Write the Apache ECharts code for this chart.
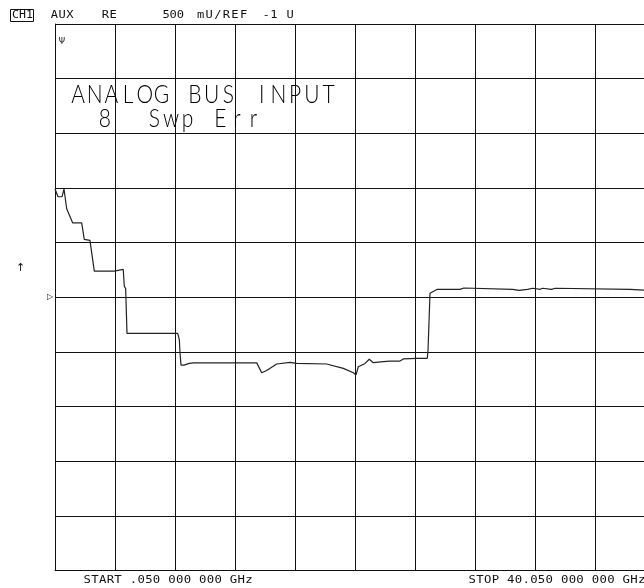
<!DOCTYPE html>
<html>
<head>
<meta charset="utf-8">
<script src="https://cdn.jsdelivr.net/npm/echarts@6.0.0/dist/echarts.min.js"></script>
<style>
  html, body { margin: 0; padding: 0; background: #fff; }
  #chart { width: 644px; height: 588px; }
</style>
</head>
<body>
<div id="chart"></div>
<script>
// Channel 1, AUX input, real part: 500 mU/div, reference -1 U at the centre line
const startGHz = 0.05;
const stopGHz = 40.05;
const refLevel = -1;        // U
const scalePerDiv = 0.5;    // U per division
const divisions = 10;

const startLabel = 'START .050 000 000 GHz';
const stopLabel = 'STOP 40.050 000 000 GHz';
const headerItems = ['AUX', 'RE', '500', 'mU/REF', '-1', 'U'];
const titleLines = ['ANALOG BUS INPUT', '8  Swp Err'];

// Swept trace (frequency in GHz, value in U)
const freqGHz = [
  0.05, 0.25, 0.52, 0.65, 0.83, 0.92, 1.23, 1.83, 2.00, 2.38,
  2.67, 4.00, 4.07, 4.60, 4.67, 4.76, 4.85, 8.23, 8.34, 8.38,
  8.45, 8.65, 9.00, 9.30, 13.50, 13.83, 14.16, 14.83, 15.72, 16.16,
  18.16, 19.27, 19.94, 20.12, 20.27, 20.72, 21.00, 21.27, 21.94, 22.38,
  23.05, 23.27, 24.16, 24.87, 24.92, 25.05, 25.16, 25.54, 27.05, 27.15,
  27.30, 27.40, 30.55, 30.62, 31.00, 31.08, 31.55, 31.62, 31.90, 31.97,
  32.40, 32.47, 32.55, 32.62, 33.15, 33.22, 33.40, 33.47, 38.38, 38.50,
  40.05
];
const auxU = [
  -0.01, -0.08, -0.08, -0.01, -0.19, -0.19, -0.32, -0.32, -0.47, -0.48,
  -0.76, -0.76, -0.745, -0.745, -0.90, -0.92, -1.33, -1.33, -1.39, -1.50,
  -1.62, -1.62, -1.605, -1.60, -1.60, -1.69, -1.67, -1.61, -1.595, -1.605,
  -1.61, -1.65, -1.69, -1.71, -1.635, -1.605, -1.567, -1.598, -1.589, -1.583,
  -1.583, -1.564, -1.558, -1.558, -1.48, -0.963, -0.949, -0.927, -0.927, -0.915,
  -0.915, -0.927, -0.927, -0.937, -0.937, -0.927, -0.927, -0.917, -0.917, -0.927,
  -0.927, -0.917, -0.917, -0.927, -0.927, -0.917, -0.917, -0.927, -0.927, -0.94,
  -0.94
];

const INK = '#111';
const MONO = '"DejaVu Sans Mono", monospace';

const chart = echarts.init(document.getElementById('chart'), null, { renderer: 'canvas' });

const yMin = refLevel - scalePerDiv * divisions / 2;
const yMax = refLevel + scalePerDiv * divisions / 2;
const gridLine = { show: true, lineStyle: { color: INK, width: 1, type: 'solid' } };

chart.setOption({
  animation: false,
  // the graticule runs 600 px wide, past the right edge of the window
  grid: { left: 55, top: 24, width: 600, height: 546.6, containLabel: false, outerBoundsMode: 'none' },
  xAxis: [
    { type: 'value', min: startGHz, max: stopGHz, show: false },
    {
      type: 'value', min: 0, max: divisions, interval: 1, position: 'bottom',
      axisLine: { show: true, onZero: false, lineStyle: { color: INK, width: 1 } },
      axisTick: { show: false }, axisLabel: { show: false },
      splitLine: gridLine
    }
  ],
  yAxis: {
    type: 'value', min: yMin, max: yMax, interval: scalePerDiv,
    axisLine: { show: true, onZero: false, lineStyle: { color: INK, width: 1 } },
    axisTick: { show: false }, axisLabel: { show: false },
    splitLine: gridLine
  },
  series: [{
    type: 'line',
    xAxisIndex: 0,
    data: freqGHz.map((f, i) => [f, auxU[i]]),
    symbol: 'none',
    showSymbol: false,
    silent: true,
    lineStyle: { color: '#222', width: 1.2 }
  }]
});

// Fixed-pitch text: each character placed in its own cell
function monoText(str, left, cy, pitch, size, sx, family, weight, fill) {
  const out = [];
  str.split('').forEach((ch, i) => {
    if (ch === ' ') return;
    out.push({
      type: 'text',
      x: left + i * pitch + pitch * 0.42,
      y: cy,
      scaleX: sx,
      silent: true,
      style: {
        text: ch,
        font: `${weight} ${size}px ${family}`,
        fill: fill || INK,
        align: 'center', textAlign: 'center',
        verticalAlign: 'middle', textVerticalAlign: 'middle'
      }
    });
  });
  return out;
}

const refY = chart.convertToPixel({ yAxisIndex: 0 }, refLevel);
const headerX = [51, 102, 163, 197, 263, 287];
const headerPitch = [7.8, 7.8, 7.2, 8.6, 7.6, 7.6];

let elements = [];
// channel box
elements.push({
  type: 'rect', silent: true,
  shape: { x: 10.5, y: 9.5, width: 23, height: 12 },
  style: { fill: 'none', stroke: INK, lineWidth: 1 }
});
elements = elements.concat(monoText('CH1', 12.5, 15.5, 7, 11, 1.05, MONO, 'normal'));
headerItems.forEach((t, k) => {
  elements = elements.concat(monoText(t, headerX[k], 15.5, headerPitch[k], 11, 1.1, MONO, 'normal'));
});
// sweep limits
elements = elements.concat(monoText(startLabel, 84, 580, 7.7, 11, 1.12, MONO, 'normal'));
elements = elements.concat(monoText(stopLabel, 469, 580, 7.7, 11, 1.12, MONO, 'normal'));
// title block
const TITLE_FONT = 'Lato, "DejaVu Sans", sans-serif';
elements = elements.concat(monoText(titleLines[0], 71, 94.5, 16.7, 25, 0.84, TITLE_FONT, 300, '#000'));
elements = elements.concat(monoText(titleLines[1], 98, 118.5, 16.5, 25, 0.84, TITLE_FONT, 300, '#000'));
// markers
elements.push({
  type: 'text', x: 62, y: 42, silent: true,
  style: { text: 'Ψ', font: 'normal 8px "DejaVu Sans"', fill: INK, align: 'center', verticalAlign: 'middle', textAlign: 'center', textVerticalAlign: 'middle' }
});
elements.push({
  type: 'text', x: 20.5, y: 268, silent: true,
  style: { text: '↑', font: 'normal 11px "DejaVu Sans"', fill: INK, align: 'center', verticalAlign: 'middle', textAlign: 'center', textVerticalAlign: 'middle' }
});
elements.push({
  type: 'text', x: 50, y: refY, silent: true,
  style: { text: '▷', font: 'normal 8px "DejaVu Sans"', fill: INK, align: 'center', verticalAlign: 'middle', textAlign: 'center', textVerticalAlign: 'middle' }
});

chart.setOption({ graphic: { elements: elements } });
</script>
</body>
</html>
